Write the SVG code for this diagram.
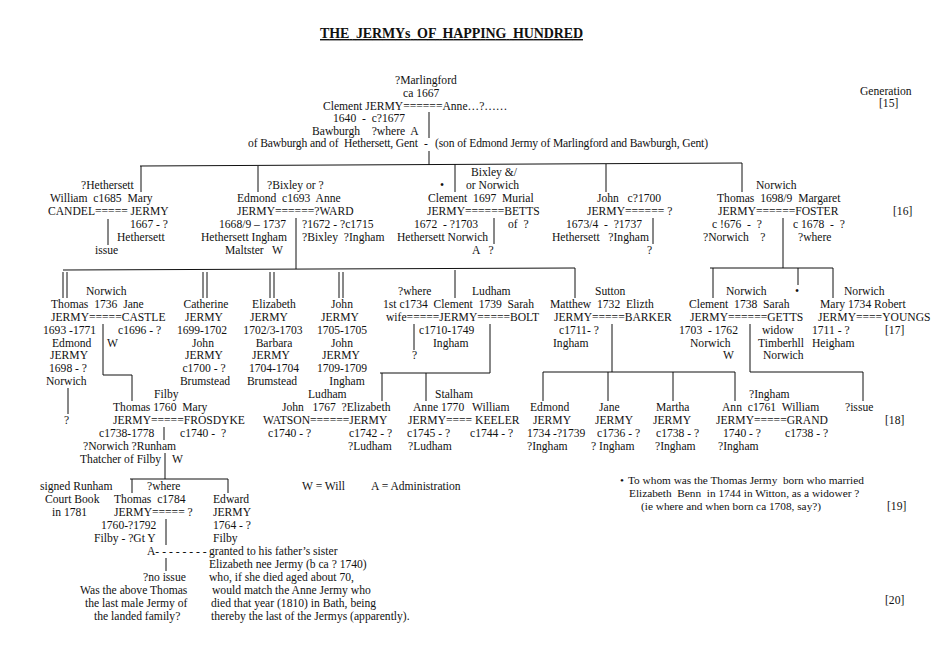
<svg xmlns="http://www.w3.org/2000/svg" width="945" height="646" viewBox="0 0 945 646">
<style>
text{font-family:"Liberation Serif","Times New Roman",serif;font-size:11.6px;fill:#111;white-space:pre}
.m{text-anchor:middle}
.q{font-size:11.3px}
.title{font-size:14px;font-weight:bold;text-decoration:underline}
#connectors line{stroke:#111;stroke-width:1;fill:none}
</style>
<rect width="945" height="646" fill="#fff"/>
<g id="title"><text class="title" x="320" y="38" textLength="263" xml:space="preserve">THE  JERMYs  OF  HAPPING  HUNDRED</text></g>

<g id="connectors">
<line x1="429" y1="112" x2="429" y2="138"/>
<line x1="429" y1="151" x2="429" y2="165"/>
<line x1="140" y1="166" x2="742" y2="163"/>
<line x1="141" y1="166" x2="141" y2="192"/>
<line x1="108" y1="219" x2="108" y2="245"/>
<line x1="258" y1="166" x2="258" y2="192"/>
<line x1="296" y1="218" x2="296" y2="269"/>
<line x1="455" y1="164" x2="455" y2="192"/>
<line x1="494" y1="218" x2="494" y2="244"/>
<line x1="606" y1="164" x2="606" y2="192"/>
<line x1="653" y1="218" x2="653" y2="244"/>
<line x1="742" y1="163" x2="742" y2="192"/>
<line x1="783" y1="218" x2="783" y2="268"/>
<line x1="710" y1="268" x2="833" y2="268"/>
<line x1="63" y1="270" x2="575" y2="268"/>
<line x1="63" y1="272" x2="63" y2="298"/>
<line x1="67" y1="272" x2="67" y2="298"/>
<line x1="203" y1="272" x2="203" y2="298"/>
<line x1="207" y1="272" x2="207" y2="298"/>
<line x1="270" y1="272" x2="270" y2="298"/>
<line x1="274" y1="272" x2="274" y2="298"/>
<line x1="339" y1="272" x2="339" y2="298"/>
<line x1="343" y1="272" x2="343" y2="298"/>
<line x1="455" y1="270" x2="455" y2="298"/>
<line x1="575" y1="268" x2="575" y2="298"/>
<line x1="713" y1="268" x2="713" y2="298"/>
<line x1="798" y1="268" x2="798" y2="285"/>
<line x1="833" y1="268" x2="833" y2="298"/>
<line x1="103" y1="324" x2="103" y2="375"/>
<line x1="103" y1="375" x2="132" y2="375"/>
<line x1="132" y1="375" x2="132" y2="401"/>
<line x1="68" y1="388" x2="68" y2="414"/>
<line x1="414" y1="324" x2="414" y2="350"/>
<line x1="490" y1="324" x2="490" y2="373"/>
<line x1="380" y1="373" x2="490" y2="373"/>
<line x1="382" y1="373" x2="382" y2="401"/>
<line x1="426" y1="373" x2="426" y2="401"/>
<line x1="612" y1="324" x2="612" y2="372"/>
<line x1="543" y1="372" x2="735" y2="372"/>
<line x1="543" y1="372" x2="543" y2="401"/>
<line x1="608" y1="372" x2="608" y2="401"/>
<line x1="673" y1="372" x2="673" y2="401"/>
<line x1="735" y1="372" x2="735" y2="401"/>
<line x1="750" y1="324" x2="750" y2="372"/>
<line x1="750" y1="372" x2="863" y2="372"/>
<line x1="863" y1="372" x2="863" y2="401"/>
<line x1="164" y1="427" x2="164" y2="440"/>
<line x1="165" y1="453" x2="165" y2="479"/>
<line x1="130" y1="479" x2="228" y2="479"/>
<line x1="132" y1="479" x2="132" y2="493"/>
<line x1="228" y1="479" x2="228" y2="493"/>
<line x1="166" y1="519" x2="166" y2="545"/>
<line x1="166" y1="558" x2="166" y2="571"/>
</g>

<g id="generations">
<text x="860" y="95">Generation</text>
<text x="879" y="107">[15]</text>
<text x="893" y="215">[16]</text>
<text x="885" y="334">[17]</text>
<text x="885" y="424">[18]</text>
<text x="887" y="510">[19]</text>
<text x="885" y="604">[20]</text>
</g>

<g id="n-clement-anne">
<text x="395" y="84">?Marlingford</text>
<text x="403" y="97">ca 1667</text>
<text x="323" y="110">Clement JERMY======Anne…?……</text>
<text x="333" y="122" xml:space="preserve">1640  -  c?1677</text>
<text x="312" y="135" xml:space="preserve">Bawburgh    ?where  A</text>
<text x="248" y="147" textLength="170" xml:space="preserve">of Bawburgh and of  Hethersett, Gent</text>
<text x="424" y="147">-</text>
<text x="435" y="147" textLength="273">(son of Edmond Jermy of Marlingford and Bawburgh, Gent)</text>
</g>

<g id="n-william-candel">
<text x="81" y="189">?Hethersett</text>
<text x="50" y="202" xml:space="preserve">William  c1685  Mary</text>
<text x="48" y="215" xml:space="preserve">CANDEL===== JERMY</text>
<text x="130" y="228">1667 - ?</text>
<text x="117" y="241">Hethersett</text>
<text x="95" y="254">issue</text>
</g>

<g id="n-edmond-ward">
<text x="267" y="189">?Bixley or ?</text>
<text x="237" y="202" xml:space="preserve">Edmond  c1693  Anne</text>
<text x="237" y="215">JERMY======?WARD</text>
<text x="219" y="228">1668/9 – 1737</text>
<text x="302" y="228">?1672 - ?c1715</text>
<text x="201" y="241">Hethersett Ingham</text>
<text x="302" y="241" xml:space="preserve">?Bixley  ?Ingham</text>
<text x="225" y="254" xml:space="preserve">Maltster   W</text>
</g>

<g id="n-clement-betts">
<text x="471" y="176">Bixley &amp;/</text>
<text x="440" y="189">•</text>
<text x="466" y="189">or Norwich</text>
<text x="428" y="202" xml:space="preserve">Clement  1697  Murial</text>
<text x="427" y="215">JERMY======BETTS</text>
<text x="414" y="228" xml:space="preserve">1672  - ?1703</text>
<text x="508" y="228" xml:space="preserve">of  ?</text>
<text x="397" y="241">Hethersett Norwich</text>
<text x="472" y="254" xml:space="preserve">A   ?</text>
</g>

<g id="n-john-1700">
<text x="597" y="202" xml:space="preserve">John   c?1700</text>
<text x="587" y="215">JERMY====== ?</text>
<text x="566" y="228" xml:space="preserve">1673/4  -  ?1737</text>
<text x="552" y="241" xml:space="preserve">Hethersett   ?Ingham</text>
<text x="647" y="254">?</text>
</g>

<g id="n-thomas-foster">
<text x="756" y="189">Norwich</text>
<text x="717" y="202" xml:space="preserve">Thomas  1698/9  Margaret</text>
<text x="718" y="215">JERMY======FOSTER</text>
<text x="712" y="228" xml:space="preserve">c !676  -  ?</text>
<text x="793" y="228" xml:space="preserve">c 1678  -  ?</text>
<text x="703" y="241" xml:space="preserve">?Norwich    ?</text>
<text x="798" y="241">?where</text>
</g>

<g id="n-thomas-castle">
<text x="86" y="295">Norwich</text>
<text x="51" y="308" xml:space="preserve">Thomas  1736  Jane</text>
<text x="51" y="321">JERMY=====CASTLE</text>
<text x="43" y="334">1693 -1771</text>
<text x="118" y="334">c1696 - ?</text>
</g>

<g id="n-edmond-1698">
<text x="52" y="347">Edmond</text>
<text x="107" y="347">W</text>
<text x="50" y="359">JERMY</text>
<text x="49" y="372">1698 - ?</text>
<text x="46" y="385">Norwich</text>
<text x="64" y="424">?</text>
</g>

<g id="n-catherine">
<text class="m" x="206" y="308">Catherine</text>
<text class="m" x="204" y="321">JERMY</text>
<text class="m" x="202" y="334">1699-1702</text>
<text class="m" x="203" y="347">John</text>
<text class="m" x="204" y="359">JERMY</text>
<text class="m" x="204" y="372">c1700 - ?</text>
<text class="m" x="205" y="385">Brumstead</text>
</g>

<g id="n-elizabeth">
<text class="m" x="274" y="308">Elizabeth</text>
<text class="m" x="269" y="321">JERMY</text>
<text class="m" x="273" y="334">1702/3-1703</text>
<text class="m" x="274" y="347">Barbara</text>
<text class="m" x="271" y="359">JERMY</text>
<text class="m" x="274" y="372">1704-1704</text>
<text class="m" x="272" y="385">Brumstead</text>
</g>

<g id="n-john-1705">
<text class="m" x="342" y="308">John</text>
<text class="m" x="340" y="321">JERMY</text>
<text class="m" x="342" y="334">1705-1705</text>
<text class="m" x="342" y="347">John</text>
<text class="m" x="341" y="359">JERMY</text>
<text class="m" x="342" y="372">1709-1709</text>
<text class="m" x="347" y="385">Ingham</text>
</g>

<g id="n-clement-bolt">
<text x="398" y="295">?where</text>
<text x="472" y="295">Ludham</text>
<text x="383" y="308" xml:space="preserve">1st c1734  Clement  1739  Sarah</text>
<text x="386" y="321">wife=====JERMY=====BOLT</text>
<text x="419" y="334">c1710-1749</text>
<text x="433" y="347">Ingham</text>
<text x="412" y="359">?</text>
</g>

<g id="n-matthew-barker">
<text x="595" y="295">Sutton</text>
<text x="550" y="308" xml:space="preserve">Matthew  1732  Elizth</text>
<text x="554" y="321">JERMY=====BARKER</text>
<text x="559" y="334">c1711- ?</text>
<text x="553" y="347">Ingham</text>
</g>

<g id="n-clement-getts">
<text x="726" y="295">Norwich</text>
<text x="795" y="295">•</text>
<text x="689" y="308" xml:space="preserve">Clement  1738  Sarah</text>
<text x="690" y="321">JERMY======GETTS</text>
<text x="679" y="334" xml:space="preserve">1703  - 1762</text>
<text x="762" y="334">widow</text>
<text x="690" y="347">Norwich</text>
<text x="758" y="347">Timberhll</text>
<text x="723" y="359">W</text>
<text x="763" y="359">Norwich</text>
</g>

<g id="n-mary-youngs">
<text x="844" y="295">Norwich</text>
<text x="820" y="308">Mary 1734 Robert</text>
<text x="818" y="321">JERMY====YOUNGS</text>
<text x="812" y="334">1711 - ?</text>
<text x="812" y="347">Heigham</text>
</g>

<g id="n-thomas-frosdyke">
<text x="154" y="398">Filby</text>
<text x="113" y="411" xml:space="preserve">Thomas 1760  Mary</text>
<text x="113" y="424">JERMY=====FROSDYKE</text>
<text x="99" y="437">c1738-1778</text>
<text x="180" y="437" xml:space="preserve">c1740 -  ?</text>
<text x="83" y="450">?Norwich ?Runham</text>
<text x="80" y="463">Thatcher of Filby</text>
<text x="172" y="463">W</text>
</g>

<g id="n-watson-elizabeth">
<text x="308" y="398">Ludham</text>
<text x="282" y="411" xml:space="preserve">John   1767  ?Elizabeth</text>
<text x="263" y="424">WATSON======JERMY</text>
<text x="268" y="437">c1740 - ?</text>
<text x="349" y="437">c1742 - ?</text>
<text x="348" y="450">?Ludham</text>
</g>

<g id="n-anne-keeler">
<text x="435" y="398">Stalham</text>
<text x="413" y="411">Anne 1770</text>
<text x="472" y="411">William</text>
<text x="408" y="424">JERMY==== KEELER</text>
<text x="407" y="437">c1745 - ?</text>
<text x="470" y="437">c1744 - ?</text>
<text x="408" y="450">?Ludham</text>
</g>

<g id="n-edmond-1734">
<text x="530" y="411">Edmond</text>
<text x="533" y="424">JERMY</text>
<text x="527" y="437">1734 -?1739</text>
<text x="527" y="450">?Ingham</text>
</g>

<g id="n-jane-1736">
<text x="599" y="411">Jane</text>
<text x="595" y="424">JERMY</text>
<text x="597" y="437">c1736 - ?</text>
<text x="591" y="450">? Ingham</text>
</g>

<g id="n-martha-1738">
<text x="656" y="411">Martha</text>
<text x="653" y="424">JERMY</text>
<text x="656" y="437">c1738 - ?</text>
<text x="655" y="450">?Ingham</text>
</g>

<g id="n-ann-grand">
<text x="749" y="398">?Ingham</text>
<text x="722" y="411" xml:space="preserve">Ann  c1761  William</text>
<text x="716" y="424">JERMY=====GRAND</text>
<text x="723" y="437">1740 - ?</text>
<text x="785" y="437">c1738 - ?</text>
<text x="718" y="450">?Ingham</text>
</g>

<g id="n-issue">
<text x="845" y="411">?issue</text>
</g>

<g id="n-signed">
<text x="40" y="490">signed Runham</text>
<text x="45" y="503">Court Book</text>
<text x="52" y="516">in 1781</text>
</g>

<g id="n-thomas-1784">
<text x="147" y="490">?where</text>
<text x="114" y="503" xml:space="preserve">Thomas  c1784</text>
<text x="114" y="516">JERMY===== ?</text>
<text x="101" y="529">1760-?1792</text>
<text x="94" y="542">Filby - ?Gt Y</text>
<text x="147" y="555">A- - - - - - - -</text>
<text x="143" y="581">?no issue</text>
<text x="80" y="594">Was the above Thomas</text>
<text x="85" y="607">the last male Jermy of</text>
<text x="94" y="620">the landed family?</text>
</g>

<g id="n-edward">
<text x="213" y="503">Edward</text>
<text x="213" y="516">JERMY</text>
<text x="213" y="529">1764 - ?</text>
<text x="213" y="542">Filby</text>
</g>

<g id="n-admin-note">
<text x="209" y="555">granted to his father’s sister</text>
<text x="209" y="568">Elizabeth nee Jermy (b ca ? 1740)</text>
<text x="209" y="581">who, if she died aged about 70,</text>
<text x="212" y="594">would match the Anne Jermy who</text>
<text x="211" y="607">died that year (1810) in Bath, being</text>
<text x="211" y="620">thereby the last of the Jermys (apparently).</text>
</g>

<g id="legend">
<text x="302" y="490">W = Will</text>
<text x="371" y="490">A = Administration</text>
</g>

<g id="n-question">
<text class="q" x="620" y="484">•</text>
<text class="q" x="628" y="484" xml:space="preserve">To whom was the Thomas Jermy  born who married</text>
<text class="q" x="629" y="497" xml:space="preserve">Elizabeth  Benn  in 1744 in Witton, as a widower ?</text>
<text class="q" x="641" y="510">(ie where and when born ca 1708, say?)</text>
</g>
</svg>
